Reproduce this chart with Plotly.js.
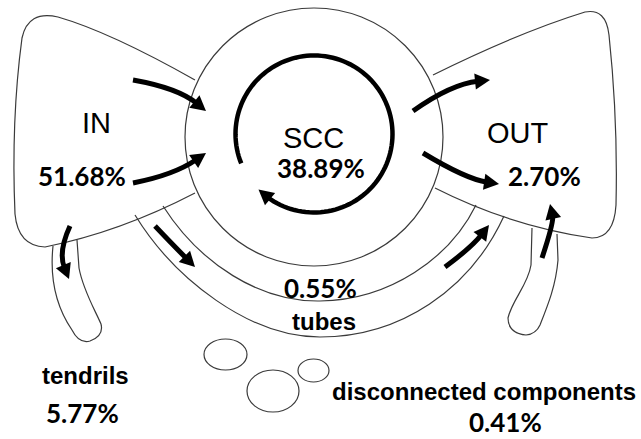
<!DOCTYPE html>
<html>
<head>
<meta charset="utf-8">
<script src="https://cdn.plot.ly/plotly-3.0.1.min.js"></script>
<style>html,body{margin:0;padding:0;background:#fff}#chart{width:641px;height:439px}</style>
</head>
<body>
<div id="chart"></div>
<script>
// ---- data ----
const components = ['IN', 'SCC', 'OUT', 'tubes', 'tendrils', 'disconnected components'];
const shares = [51.68, 38.89, 2.70, 0.55, 5.77, 0.41];
const nameStyle = ['regular', 'regular', 'regular', 'bold', 'bold', 'bold'];

// ---- layout geometry (pixel-like coordinates on a 641x439 plane) ----
const namePos = [[96, 123], [313, 138], [518, 133], [324, 321], [85, 375], [484, 391]];
const valuePos = [[82, 176], [321, 168], [544, 176], [320, 288], [82, 413], [505, 422]];

const OUTLINE = {color: '#3a3a3a', width: 1.2};
const shapes = [];
function path(d, line) { shapes.push({type: 'path', xref: 'x', yref: 'y', path: d, line: line || OUTLINE, fillcolor: 'rgba(0,0,0,0)'}); }

// IN lobe
path('M195,80 Q110,32 58,17 Q28,10 22,38 Q11,120 15,214 Q18,246 45,247 Q120,232 195,193');
// OUT lobe
path('M433,75 Q520,32 585,12 Q606,8 609,35 Q618,120 616,205 Q614,238 592,238 Q510,226 435,188');
// SCC circle
shapes.push({type: 'circle', xref: 'x', yref: 'y', x0: 185, x1: 443, y0: 8, y1: 266, line: OUTLINE});
// tubes
path('M163,206 C200,264 260,302 320,301 C390,300 450,258 476,205');
path('M135,215 C175,280 250,337 320,337 C400,337 470,290 504,216');
// tendrils
path('M53,246 C50,275 55,305 72,330 Q79,344 90,341 Q104,336 101,324 C95,310 83,290 79,268 L77,240');
path('M532,228 L531,265 C528,285 512,300 508,318 Q508,333 526,335 Q536,334 540,325 C548,305 556,285 558,260 L557,234');
// disconnected components
[[204, 247, 339, 370], [247, 299, 370, 412], [298, 329, 359, 382]].forEach(function (e) {
  shapes.push({type: 'circle', xref: 'x', yref: 'y', x0: e[0], x1: e[1], y0: e[2], y1: e[3], line: OUTLINE});
});

// arrows: [start, control, tip]
const HEAD_L = 15, HEAD_W = 8;
function head(tip, dx, dy) {
  const n = Math.hypot(dx, dy); dx /= n; dy /= n;
  const bx = tip[0] - dx * HEAD_L, by = tip[1] - dy * HEAD_L;
  const px = -dy * HEAD_W, py = dx * HEAD_W;
  shapes.push({type: 'path', xref: 'x', yref: 'y',
    path: 'M' + tip[0] + ',' + tip[1] + ' L' + (bx + px) + ',' + (by + py) + ' L' + (bx - px) + ',' + (by - py) + ' Z',
    fillcolor: '#000', line: {width: 0}});
  return [tip[0] - dx * (HEAD_L - 3), tip[1] - dy * (HEAD_L - 3)];
}
function arrow(s, c, t, w) {
  const end = head(t, t[0] - c[0], t[1] - c[1]);
  path('M' + s[0] + ',' + s[1] + ' Q' + c[0] + ',' + c[1] + ' ' + end[0] + ',' + end[1], {color: '#000', width: w || 5});
}
arrow([133, 80], [178, 88], [206, 111]);
arrow([133, 183], [174, 175], [206, 153]);
arrow([413, 111], [451, 84], [490, 80]);
arrow([423, 153], [466, 179], [499, 184]);
arrow([155, 226], [174, 246], [195, 267]);
arrow([445, 267], [472, 247], [489, 225]);
arrow([70, 226], [58, 252], [69, 279]);
arrow([542, 258], [554, 222], [550, 204]);

// SCC circulation arc
(function () {
  const cx = 314, cy = 134, r = 78.5;
  const a0 = 158 * Math.PI / 180, aTip = (135 + 360) * Math.PI / 180;
  const aEnd = aTip - (HEAD_L - 3) / r;
  let d = '';
  const N = 120;
  for (let i = 0; i <= N; i++) {
    const a = a0 + (aEnd - a0) * i / N;
    d += (i ? ' L' : 'M') + (cx + r * Math.cos(a)).toFixed(2) + ',' + (cy + r * Math.sin(a)).toFixed(2);
  }
  path(d, {color: '#000', width: 4.5});
  const tip = [cx + r * Math.cos(aTip), cy + r * Math.sin(aTip)];
  const aB = aTip - HEAD_L / r;
  const base = [cx + r * Math.cos(aB), cy + r * Math.sin(aB)];
  head(tip, tip[0] - base[0], tip[1] - base[1]);
})();

// labels
const annotations = [];
components.forEach(function (name, i) {
  const bold = nameStyle[i] === 'bold';
  annotations.push({x: namePos[i][0], y: namePos[i][1], xref: 'x', yref: 'y', showarrow: false,
    xanchor: 'center', yanchor: 'middle', text: bold ? '<b>' + name + '</b>' : name,
    font: bold ? {family: 'Liberation Sans, Arial, sans-serif', size: 24, color: '#000'}
               : {family: 'Liberation Sans, Arial, sans-serif', size: 29, color: '#000'}});
  annotations.push({x: valuePos[i][0], y: valuePos[i][1], xref: 'x', yref: 'y', showarrow: false,
    xanchor: 'center', yanchor: 'middle', text: '<b>' + shares[i].toFixed(2) + '%</b>',
    font: {family: 'Lato, sans-serif', size: 26, color: '#000'}});
});

Plotly.newPlot('chart', [{x: [], y: [], type: 'scatter', hoverinfo: 'skip', showlegend: false}], {
  width: 641, height: 439,
  margin: {l: 0, r: 0, t: 0, b: 0},
  paper_bgcolor: '#fff', plot_bgcolor: '#fff',
  xaxis: {range: [0, 641], visible: false, fixedrange: true},
  yaxis: {range: [439, 0], visible: false, fixedrange: true},
  showlegend: false,
  shapes: shapes,
  annotations: annotations
}, {staticPlot: true, displayModeBar: false});
</script>
</body>
</html>
